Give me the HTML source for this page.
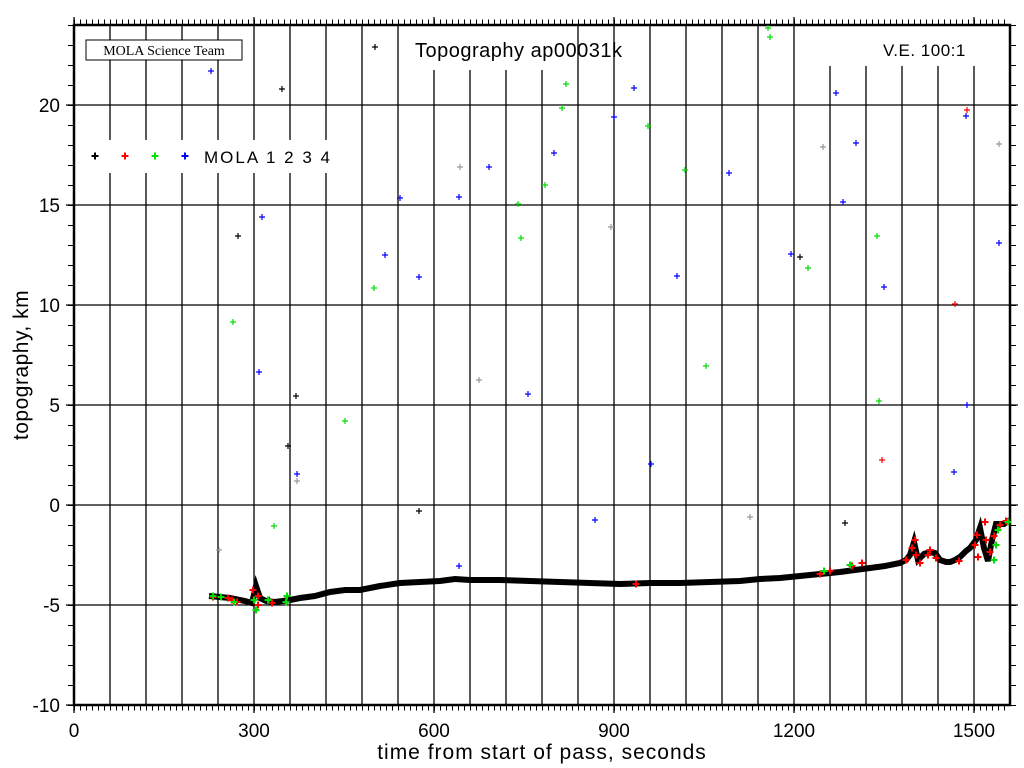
<!DOCTYPE html>
<html><head><meta charset="utf-8"><style>
html,body{margin:0;padding:0;background:#fff;}
svg{display:block;font-family:"Liberation Sans",sans-serif;}
</style></head><body>
<svg width="1024" height="768" viewBox="0 0 1024 768" xmlns="http://www.w3.org/2000/svg">
<rect width="1024" height="768" fill="#fff"/>
<defs>
<g id="c"><path d="M-3 0H3M0 -3V3" stroke-width="1.2"/></g>
<g id="C"><path d="M-3.5 0H3.5M0 -3.5V3.5" stroke-width="2"/></g>
</defs>
<g stroke="#000" stroke-width="1.3">
<path d="M110 25V705M146 25V705M182 25V705M218 25V705M254 25V705M290 25V705M326 25V705M362 25V705M398 25V705M434 25V705M470 25V705M506 25V705M542 25V705M578 25V705M614 25V705M650 25V705M686 25V705M722 25V705M758 25V705M794 25V705M830 25V705M866 25V705M902 25V705M938 25V705M974 25V705"/>
<path d="M74 105H1010M74 205H1010M74 305H1010M74 405H1010M74 505H1010M74 605H1010"/>
</g>
<rect x="400" y="26" width="170" height="44" fill="#fff"/>
<rect x="808" y="26" width="200" height="40" fill="#fff"/>
<rect x="76" y="140" width="251" height="33" fill="#fff"/>
<rect x="86" y="40" width="156" height="20" fill="#fff" stroke="#000" stroke-width="1"/>
<text x="164" y="55" font-family="'Liberation Serif',serif" font-size="14" text-anchor="middle">MOLA Science Team</text>
<text x="415" y="57" font-size="20" letter-spacing="0.5">Topography ap00031k</text>
<text x="883" y="56" font-size="17" letter-spacing="0.5">V.E. 100:1</text>
<g transform="translate(95,156)" stroke="#000"><use href="#C"/></g>
<g transform="translate(125,156)" stroke="#f00"><use href="#C"/></g>
<g transform="translate(155,156)" stroke="#0d0"><use href="#C"/></g>
<g transform="translate(185,156)" stroke="#00f"><use href="#C"/></g>
<text x="204" y="163" font-size="17" letter-spacing="2">MOLA 1 2 3 4</text>
<g stroke="#000">
<rect x="74" y="25" width="936" height="680" fill="none" stroke-width="2.5"/>
<line x1="74" y1="22" x2="1010" y2="22" stroke-width="5" stroke-dasharray="1 5"/>
<line x1="74" y1="708" x2="1010" y2="708" stroke-width="5" stroke-dasharray="1 5"/>
<line x1="71" y1="25" x2="71" y2="706" stroke-width="6" stroke-dasharray="1 19"/>
<line x1="1013" y1="25" x2="1013" y2="706" stroke-width="6" stroke-dasharray="1 19"/>
<path d="M74 17V25M254 17V25M434 17V25M614 17V25M794 17V25M974 17V25M74 705V713M254 705V713M434 705V713M614 705V713M794 705V713M974 705V713M66 105H74M66 205H74M66 305H74M66 405H74M66 505H74M66 605H74M66 705H74M1010 105H1018M1010 205H1018M1010 305H1018M1010 405H1018M1010 505H1018M1010 605H1018" stroke-width="1.3"/>
</g>
<g font-size="19" text-anchor="end">
<text x="60" y="112">20</text><text x="60" y="212">15</text><text x="60" y="312">10</text><text x="60" y="412">5</text><text x="60" y="512">0</text><text x="60" y="612">-5</text><text x="60" y="712">-10</text>
</g>
<g font-size="19" text-anchor="middle">
<text x="74" y="737">0</text><text x="254" y="737">300</text><text x="434" y="737">600</text><text x="614" y="737">900</text><text x="794" y="737">1200</text><text x="974" y="737">1500</text>
</g>
<text x="542" y="759" font-size="21" text-anchor="middle" letter-spacing="1">time from start of pass, seconds</text>
<text transform="translate(28,365) rotate(-90)" font-size="21" text-anchor="middle" letter-spacing="0.5">topography, km</text>
<polyline fill="none" stroke="#000" stroke-width="6" stroke-linejoin="miter" points="209,596 230,598 245,601 252,603 256,586 260,598 266,601 275,602 290,600 300,598 315,596 330,592 345,590 360,590 380,586 400,583 420,582 440,581 455,579 470,580 485,580 500,580 530,581 560,582 590,583 620,584 650,583 680,583 710,582 740,581 760,579 780,578 800,576 820,574 840,572 855,570 870,568 885,566 900,563 906,560 910,555 914,542 918,560 924,554 930,552 935,553 940,560 946,562 950,562 955,560 960,557 966,551 970,548 976,540 980,528 984,548 988,561 992,540 996,524 1004,524 1010,520"/>
<g stroke="#f00">
<use href="#C" x="213" y="597"/><use href="#C" x="228" y="598"/><use href="#C" x="232" y="600"/><use href="#C" x="237" y="602"/><use href="#C" x="253" y="590"/><use href="#C" x="258" y="596"/><use href="#C" x="258" y="605"/><use href="#C" x="269" y="600"/><use href="#C" x="272" y="603"/><use href="#C" x="636" y="584"/>
<use href="#C" x="820" y="574"/><use href="#C" x="830" y="571"/><use href="#C" x="852" y="566"/><use href="#C" x="862" y="563"/><use href="#C" x="906" y="560"/><use href="#C" x="912" y="548"/><use href="#C" x="915" y="540"/><use href="#C" x="916" y="555"/><use href="#C" x="920" y="563"/><use href="#C" x="928" y="555"/><use href="#C" x="930" y="550"/><use href="#C" x="936" y="558"/><use href="#C" x="959" y="561"/><use href="#C" x="975" y="545"/><use href="#C" x="977" y="535"/><use href="#C" x="978" y="557"/><use href="#C" x="985" y="522"/><use href="#C" x="986" y="540"/><use href="#C" x="990" y="552"/><use href="#C" x="994" y="536"/><use href="#C" x="1000" y="525"/><use href="#C" x="1006" y="521"/>
</g>
<g stroke="#0d0">
<use href="#C" x="213" y="596"/><use href="#C" x="221" y="597"/><use href="#C" x="234" y="602"/><use href="#C" x="254" y="600"/><use href="#C" x="256" y="610"/><use href="#C" x="268" y="600"/><use href="#C" x="286" y="602"/><use href="#C" x="287" y="596"/><use href="#C" x="824" y="571"/><use href="#C" x="850" y="565"/><use href="#C" x="998" y="530"/><use href="#C" x="996" y="545"/><use href="#C" x="994" y="560"/><use href="#C" x="1008" y="522"/>
</g>
<g stroke="#00f">
<use href="#c" x="211" y="71"/><use href="#c" x="262" y="217"/><use href="#c" x="259" y="372"/><use href="#c" x="297" y="474"/><use href="#c" x="385" y="255"/><use href="#c" x="400" y="198"/><use href="#c" x="419" y="277"/><use href="#c" x="459" y="197"/><use href="#c" x="459" y="566"/><use href="#c" x="489" y="167"/><use href="#c" x="528" y="394"/><use href="#c" x="554" y="153"/><use href="#c" x="595" y="520"/><use href="#c" x="614" y="117"/><use href="#c" x="634" y="88"/><use href="#c" x="651" y="464"/><use href="#c" x="677" y="276"/><use href="#c" x="729" y="173"/><use href="#c" x="791" y="254"/><use href="#c" x="836" y="93"/><use href="#c" x="843" y="202"/><use href="#c" x="856" y="143"/><use href="#c" x="884" y="287"/><use href="#c" x="954" y="472"/><use href="#c" x="967" y="405"/><use href="#c" x="966" y="116"/><use href="#c" x="999" y="243"/>
</g>
<g stroke="#0d0">
<use href="#c" x="233" y="322"/><use href="#c" x="274" y="526"/><use href="#c" x="345" y="421"/><use href="#c" x="374" y="288"/><use href="#c" x="518" y="204"/><use href="#c" x="521" y="238"/><use href="#c" x="545" y="185"/><use href="#c" x="562" y="108"/><use href="#c" x="566" y="84"/><use href="#c" x="648" y="126"/><use href="#c" x="685" y="170"/><use href="#c" x="706" y="366"/><use href="#c" x="768" y="28"/><use href="#c" x="770" y="37"/><use href="#c" x="808" y="268"/><use href="#c" x="877" y="236"/><use href="#c" x="879" y="401"/>
</g>
<g stroke="#000">
<use href="#c" x="375" y="47"/><use href="#c" x="282" y="89"/><use href="#c" x="238" y="236"/><use href="#c" x="296" y="396"/><use href="#c" x="288" y="446"/><use href="#c" x="419" y="511"/><use href="#c" x="845" y="523"/><use href="#c" x="800" y="257"/>
</g>
<g stroke="#999">
<use href="#c" x="219" y="550"/><use href="#c" x="297" y="481"/><use href="#c" x="460" y="167"/><use href="#c" x="479" y="380"/><use href="#c" x="611" y="227"/><use href="#c" x="750" y="517"/><use href="#c" x="823" y="147"/><use href="#c" x="999" y="144"/>
</g>
<g stroke="#f00">
<use href="#c" x="882" y="460"/><use href="#c" x="955" y="304"/><use href="#c" x="967" y="110"/>
</g>
</svg>
</body></html>
